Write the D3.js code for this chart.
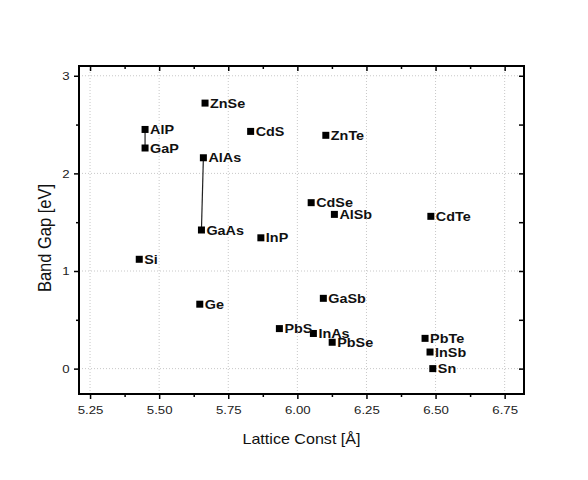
<!DOCTYPE html>
<html>
<head>
<meta charset="utf-8">
<script src="https://cdn.jsdelivr.net/npm/d3@7"></script>
<style>
  body { margin: 0; background: #fff; }
  svg { display: block; }
  text { font-family: "Liberation Sans", Arial, sans-serif; }
</style>
</head>
<body>
<svg id="chart" width="588" height="480"></svg>
<script>
// Data
const materials = ["AlP","GaP","ZnSe","CdS","ZnTe","AlAs","GaAs","InP","CdSe","AlSb","CdTe","Si","Ge","GaSb","PbS","InAs","PbSe","PbTe","InSb","Sn"];
const latticeConst = [5.449,5.449,5.666,5.831,6.103,5.660,5.653,5.868,6.050,6.134,6.483,5.428,5.647,6.094,5.935,6.058,6.126,6.462,6.480,6.490];
const bandGap = [2.45,2.26,2.72,2.43,2.39,2.16,1.42,1.34,1.70,1.58,1.56,1.12,0.66,0.72,0.41,0.36,0.27,0.31,0.17,0.00];
const links = [["AlP","GaP"],["AlAs","GaAs"]];
const xTicks = [5.25,5.50,5.75,6.00,6.25,6.50,6.75];
const xMinorTicks = [5.375,5.625,5.875,6.125,6.375,6.625];
const yTicks = [0,1,2,3];
const yMinorTicks = [0.5,1.5,2.5];
const xTitle = "Lattice Const [Å]";
const yTitle = "Band Gap [eV]";

const svg = d3.select("#chart");
const L = 79, R = 524, T = 66, B = 394;
const SX = 1.15;
const x = d3.scaleLinear().domain([5.21, 6.82]).range([L, R]);
const y = d3.scaleLinear().domain([-0.26, 3.10]).range([B, T]);

// grid
const grid = svg.append("g");
grid.selectAll("line.gx").data(xTicks).join("line")
  .attr("x1", d => x(d)).attr("x2", d => x(d)).attr("y1", T).attr("y2", B)
  .attr("stroke", "#c8c8c8").attr("stroke-dasharray", "1,2");
grid.selectAll("line.gy").data(yTicks).join("line")
  .attr("y1", d => y(d)).attr("y2", d => y(d)).attr("x1", L).attr("x2", R)
  .attr("stroke", "#c8c8c8").attr("stroke-dasharray", "1,2");

function styleAxis(g) {
  g.select(".domain").remove();
  g.selectAll(".tick line").attr("stroke", "#000").attr("stroke-width", 1.5);
}

// bottom axes
svg.append("g").attr("transform", `translate(0,${B})`)
  .call(d3.axisBottom(x).tickValues(xTicks).tickSize(5).tickPadding(7).tickFormat(d3.format(".2f")))
  .call(styleAxis)
  .call(g => g.selectAll("text").attr("font-size", 11.5).attr("fill", "#222")
    .attr("font-family", "Liberation Sans, Arial, sans-serif").attr("transform", `scale(${SX},1)`));
svg.append("g").attr("transform", `translate(0,${B})`)
  .call(d3.axisBottom(x).tickValues(xMinorTicks).tickSize(3).tickFormat(""))
  .call(styleAxis);
// top axes (inward)
svg.append("g").attr("transform", `translate(0,${T})`)
  .call(d3.axisTop(x).tickValues(xTicks).tickSize(-5).tickFormat(""))
  .call(styleAxis);
svg.append("g").attr("transform", `translate(0,${T})`)
  .call(d3.axisTop(x).tickValues(xMinorTicks).tickSize(-3).tickFormat(""))
  .call(styleAxis);
// left axes
svg.append("g").attr("transform", `translate(${L},0)`)
  .call(d3.axisLeft(y).tickValues(yTicks).tickSize(5).tickPadding(6).tickFormat(d3.format("d")))
  .call(styleAxis)
  .call(g => g.selectAll("text").attr("font-size", 11.5).attr("fill", "#222")
    .attr("font-family", "Liberation Sans, Arial, sans-serif").attr("transform", `scale(${SX},1)`).attr("x", -9.5/SX));
svg.append("g").attr("transform", `translate(${L},0)`)
  .call(d3.axisLeft(y).tickValues(yMinorTicks).tickSize(3).tickFormat(""))
  .call(styleAxis);
// right axes (inward)
svg.append("g").attr("transform", `translate(${R},0)`)
  .call(d3.axisRight(y).tickValues(yTicks.concat(yMinorTicks)).tickSize(-5).tickFormat(""))
  .call(styleAxis);

// frame
svg.append("rect").attr("x", L).attr("y", T).attr("width", R - L).attr("height", B - T)
  .attr("fill", "none").attr("stroke", "#000").attr("stroke-width", 2);

// data
const pts = materials.map((m, i) => ({ name: m, a: latticeConst[i], e: bandGap[i] }));
const byName = Object.fromEntries(pts.map(p => [p.name, p]));

svg.append("g").selectAll("line").data(links).join("line")
  .attr("x1", d => x(byName[d[0]].a)).attr("y1", d => y(byName[d[0]].e))
  .attr("x2", d => x(byName[d[1]].a)).attr("y2", d => y(byName[d[1]].e))
  .attr("stroke", "#222").attr("stroke-width", 1.2);

const s = 7;
svg.append("g").selectAll("rect").data(pts).join("rect")
  .attr("x", d => x(d.a) - s / 2).attr("y", d => y(d.e) - s / 2)
  .attr("width", s).attr("height", s).attr("fill", "#000");

svg.append("g").selectAll("g").data(pts).join("g")
  .attr("transform", d => `translate(${x(d.a) + 5},${y(d.e) + 4.5}) scale(${SX},1)`)
  .append("text")
  .attr("font-size", 12.5).attr("font-weight", "bold").attr("fill", "#111")
  .text(d => d.name);

// titles
svg.append("g").attr("transform", `translate(${(L + R) / 2},444) scale(${SX},1)`)
  .append("text").attr("text-anchor", "middle").attr("font-size", 14).attr("fill", "#111")
  .text(xTitle);
svg.append("g").attr("transform", `translate(51,${(T + B) / 2 + 8}) rotate(-90) scale(1,${SX})`)
  .append("text").attr("text-anchor", "middle").attr("font-size", 16.5).attr("fill", "#111")
  .text(yTitle);
</script>
</body>
</html>
